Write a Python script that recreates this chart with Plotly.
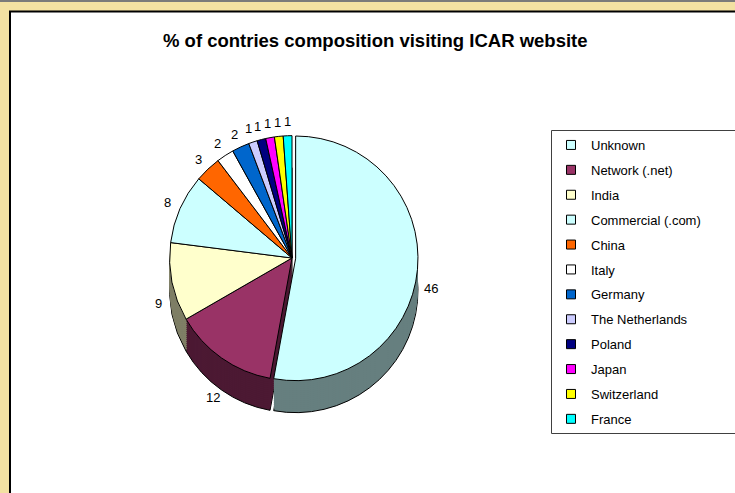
import math
import plotly.graph_objects as go

# ---------------- data ----------------
labels = ["Unknown", "Network (.net)", "India", "Commercial (.com)", "China", "Italy",
          "Germany", "The Netherlands", "Poland", "Japan", "Switzerland", "France"]
values = [46, 12, 9, 8, 3, 2, 2, 1, 1, 1, 1, 1]
title_text = "% of contries composition visiting ICAR website"

# ---------------- style ----------------
colors = ["#CCFFFF", "#993366", "#FFFFCC", "#CCFFFF", "#FF6600", "#FFFFFF",
          "#0066CC", "#CCCCFF", "#000080", "#FF00FF", "#FFFF00", "#00FFFF"]
PULL = 0.03
pulls = [PULL] + [0] * (len(values) - 1)

W, H = 735, 493
cx, cy, R, depth, step = 292, 258, 126, 32, 2
LABEL_GAP = 14
FONT = "Liberation Sans, Arial, sans-serif"
BEIGE = "#F3E1A2"


def darker(hexc, f=0.5):
    h = hexc.lstrip("#")
    r, g, b = (int(h[i:i + 2], 16) for i in (0, 2, 4))
    return "rgb(%d,%d,%d)" % (r * f, g * f, b * f)


def domain(shift):
    x0 = (cx - R) / W
    x1 = (cx + R) / W
    y1 = 1 - (cy - R + shift) / H
    y0 = 1 - (cy + R + shift) / H
    return dict(x=[x0, x1], y=[y0, y1])


def px2x(p):
    return p / W


def px2y(p):
    return 1 - p / H


fig = go.Figure()
wall_colors = [darker(c) for c in colors]

# side wall (stacked darker layers of the same pie)
for s in range(depth, 0, -step):
    bottom = s == depth
    fig.add_trace(go.Pie(
        labels=labels, values=values, sort=False, direction="clockwise", rotation=0,
        pull=pulls, domain=domain(s), showlegend=False, hoverinfo="skip",
        marker=dict(colors=wall_colors,
                    line=dict(color="black" if bottom else "rgba(0,0,0,0)",
                              width=1 if bottom else 0)),
        textinfo="none",
    ))

# top face
fig.add_trace(go.Pie(
    labels=labels, values=values, sort=False, direction="clockwise", rotation=0,
    pull=pulls, domain=domain(0), showlegend=False, hoverinfo="skip",
    marker=dict(colors=colors, line=dict(color="black", width=1)),
    textinfo="none",
))

# value labels placed around the pie at each slice's mid-angle
total = sum(values)
r_eff = R / (1 + PULL)
annotations = []
cum = 0
for i, v in enumerate(values):
    theta = 2 * math.pi * (cum + v / 2) / total
    cum += v
    rr = r_eff * (1 + pulls[i]) + LABEL_GAP
    down = max(0.0, -math.cos(theta))
    side = abs(math.sin(theta))
    lx = cx + rr * math.sin(theta)
    ly = cy - rr * math.cos(theta) + depth * down + depth * 0.5 * side * (1 - down)
    if math.cos(theta) > 0.3:
        ly = cy - rr * math.cos(theta)
    annotations.append(dict(
        text=str(v), x=px2x(lx), y=px2y(ly), xref="paper", yref="paper",
        xanchor="center", yanchor="middle", showarrow=False,
        font=dict(family=FONT, size=13, color="black"),
    ))

annotations.append(dict(
    text=title_text, x=px2x(375), y=px2y(41), xref="paper", yref="paper",
    xanchor="center", yanchor="middle", showarrow=False,
    font=dict(family=FONT, size=18.5, color="black", weight="bold"),
))

# legend entries
for lab, col in zip(labels, colors):
    fig.add_trace(go.Scatter(
        x=[None], y=[None], mode="markers", name=lab, legendgroup=lab,
        marker=dict(symbol="square", size=9, color=col, line=dict(color="black", width=1)),
        showlegend=True, hoverinfo="skip",
    ))

shapes = [
    # beige frame (top and left) with dark edges
    dict(type="rect", xref="paper", yref="paper", x0=0, x1=1, y0=px2y(11), y1=1,
         fillcolor=BEIGE, line=dict(width=0), layer="below"),
    dict(type="rect", xref="paper", yref="paper", x0=0, x1=px2x(9), y0=0, y1=1,
         fillcolor=BEIGE, line=dict(width=0), layer="below"),
    dict(type="rect", xref="paper", yref="paper", x0=0, x1=1, y0=px2y(2), y1=1,
         fillcolor="#7a7a7a", line=dict(width=0), layer="below"),
    dict(type="line", xref="paper", yref="paper", x0=px2x(9), x1=1, y0=px2y(11.5), y1=px2y(11.5),
         line=dict(color="black", width=2), layer="below"),
    dict(type="line", xref="paper", yref="paper", x0=px2x(10), x1=px2x(10), y0=0, y1=px2y(11),
         line=dict(color="black", width=2), layer="below"),
    # legend box
    dict(type="rect", xref="paper", yref="paper", x0=px2x(551.5), x1=px2x(760),
         y0=px2y(433.5), y1=px2y(130.5), fillcolor="white",
         line=dict(color="#404040", width=1), layer="below"),
]

fig.update_layout(
    width=W, height=H,
    margin=dict(l=0, r=0, t=0, b=0, autoexpand=False),
    paper_bgcolor="white",
    plot_bgcolor="rgba(0,0,0,0)",
    xaxis=dict(visible=False),
    yaxis=dict(visible=False),
    font=dict(family=FONT, size=13, color="black"),
    legend=dict(
        x=px2x(551), xanchor="left", y=px2y(130), yanchor="top",
        bgcolor="rgba(0,0,0,0)", borderwidth=0,
        font=dict(family=FONT, size=13, color="black"),
        tracegroupgap=5, traceorder="grouped",
    ),
    shapes=shapes,
    annotations=annotations,
)

fig.write_html(
    "out.html",
    config={"displayModeBar": False},
    post_script="document.body.style.margin='0';document.body.style.overflow='hidden';",
)
